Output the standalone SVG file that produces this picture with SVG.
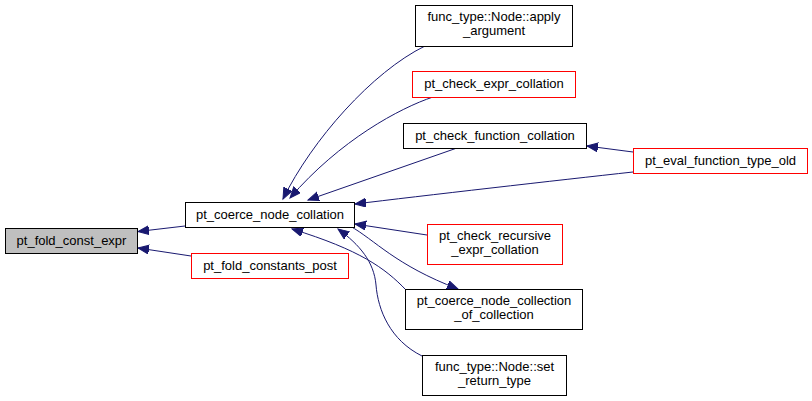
<svg xmlns="http://www.w3.org/2000/svg" width="812" height="401" viewBox="0 0 812 401">
<style>
  rect.n { fill: #ffffff; stroke: #000000; stroke-width: 1; }
  rect.r { fill: #ffffff; stroke: #ff0000; stroke-width: 1; }
  rect.g { fill: #bfbfbf; stroke: #000000; stroke-width: 1; }
  text { font-family: "Liberation Sans", Arial, sans-serif; font-size: 13px; fill: #000000; text-anchor: middle; }
  .e path { fill: none; stroke: #191970; stroke-width: 1; marker-end: url(#arr); }
</style>
<defs>
  <marker id="arr" markerUnits="userSpaceOnUse" markerWidth="13" markerHeight="10" refX="11" refY="4.5" orient="auto">
    <path d="M0,0 L11,4.5 L0,9 z" fill="#191970" stroke="#191970" stroke-width="1"/>
  </marker>
</defs>
<rect width="812" height="401" fill="#ffffff"/>
<g class="e" id="edges">
  <path d="M185,226 L138,231.5"/>
  <path d="M191,256 L138,248"/>
  <path d="M425,46 C372,72 312,140 283,199"/>
  <path d="M433,97 C400,108 340,140 290,198"/>
  <path d="M457,148 L308,200"/>
  <path d="M633,172 C560,180 420,196 355,204"/>
  <path d="M633,152 L587,146"/>
  <path d="M427,235 L355,224"/>
  <path d="M350,226 C375,240 395,265 458,289"/>
  <path d="M406,290 C385,268 360,250 292,229"/>
  <path d="M422,356 C390,340 378,310 376,285 C374,262 360,245 338,229"/>
</g>
<g id="n_fold"><rect class="g" x="5.5" y="228.5" width="132" height="25"/><text x="71.5" y="245">pt_fold_const_expr</text></g>
<g id="n_coerce"><rect class="n" x="185.5" y="202.5" width="169" height="25"/><text x="270" y="219">pt_coerce_node_collation</text></g>
<g id="n_post"><rect class="r" x="191.5" y="253.5" width="157" height="25"/><text x="270" y="270">pt_fold_constants_post</text></g>
<g id="n_apply"><rect class="n" x="415.5" y="5.5" width="157" height="41"/><text x="494" y="21">func_type::Node::apply</text><text x="494" y="35">_argument</text></g>
<g id="n_expr"><rect class="r" x="412.5" y="71.5" width="163" height="26"/><text x="494" y="88">pt_check_expr_collation</text></g>
<g id="n_func"><rect class="n" x="403.5" y="123.5" width="183" height="25"/><text x="495" y="140">pt_check_function_collation</text></g>
<g id="n_eval"><rect class="r" x="633.5" y="148.5" width="174" height="25"/><text x="720.5" y="165">pt_eval_function_type_old</text></g>
<g id="n_recur"><rect class="r" x="427.5" y="224.5" width="135" height="40"/><text x="495" y="240">pt_check_recursive</text><text x="495" y="254">_expr_collation</text></g>
<g id="n_coll"><rect class="n" x="405.5" y="289.5" width="177" height="40"/><text x="494" y="305">pt_coerce_node_collection</text><text x="494" y="319">_of_collection</text></g>
<g id="n_ret"><rect class="n" x="422.5" y="355.5" width="144" height="40"/><text x="494.5" y="371">func_type::Node::set</text><text x="494.5" y="385">_return_type</text></g>
</svg>
